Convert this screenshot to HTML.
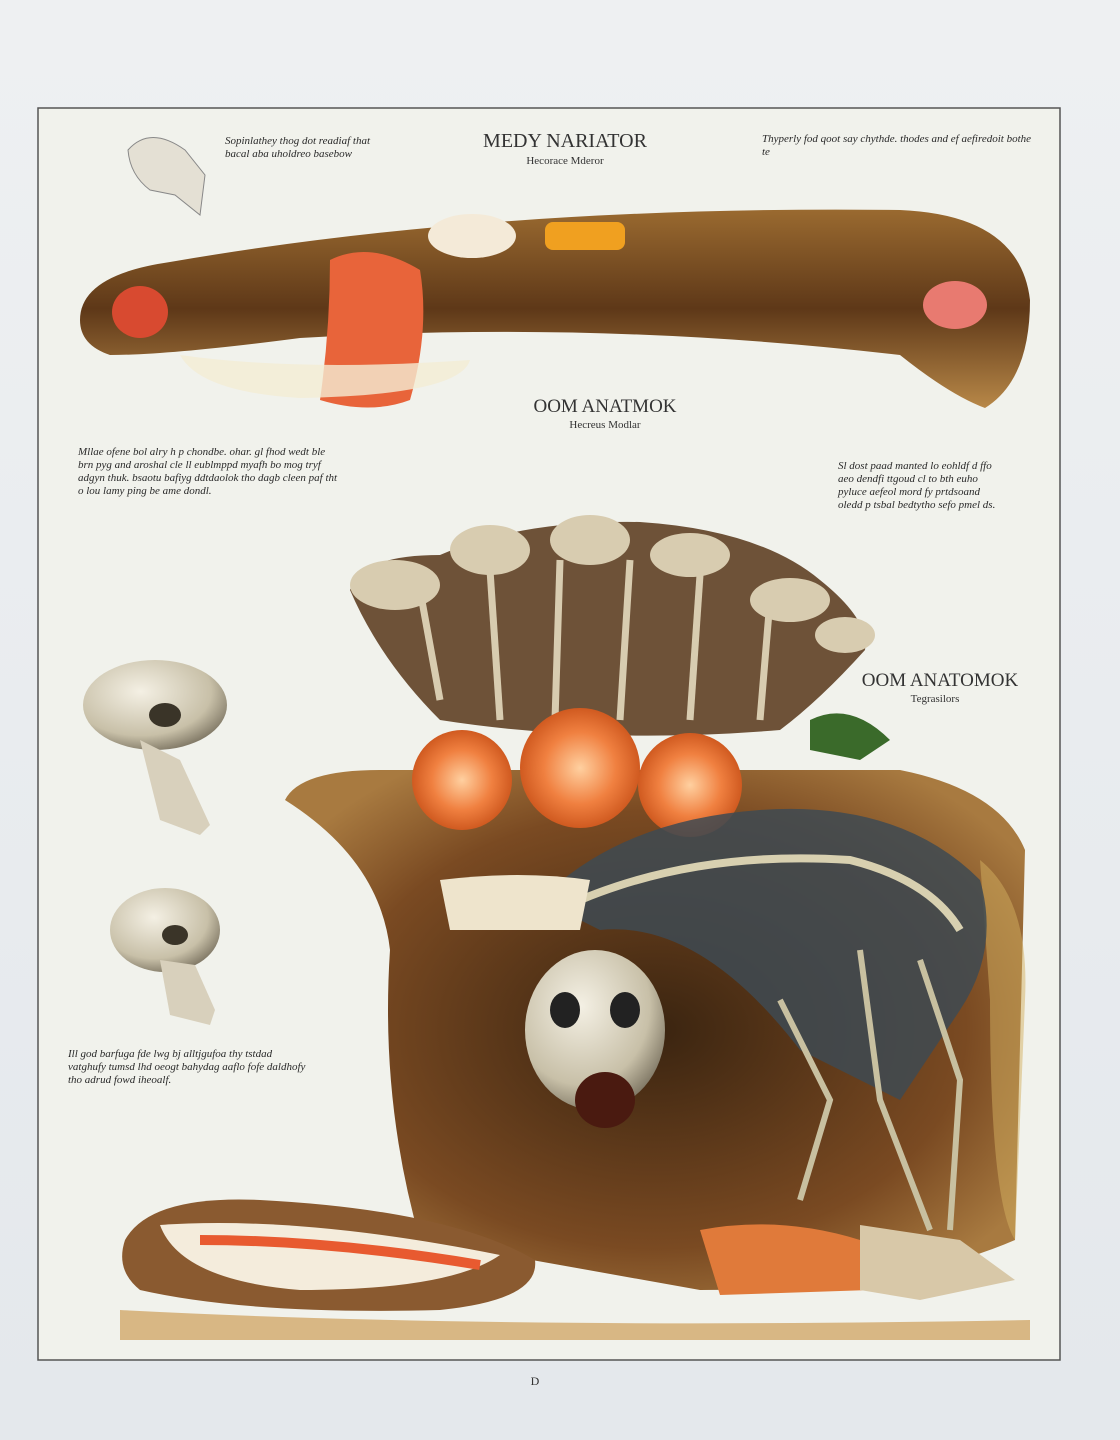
<!DOCTYPE html>
<html><head><meta charset="utf-8"><style>
html,body{margin:0;padding:0;width:1120px;height:1440px;overflow:hidden;background:#e8ebee;font-family:"Liberation Serif",serif;}
.t{position:absolute;color:#2a2a2a;font-style:italic;font-size:11px;line-height:13px;}
.h{position:absolute;color:#333;font-family:"Liberation Serif",serif;text-align:center;}
</style></head><body>
<svg width="1120" height="1440" style="position:absolute;left:0;top:0">
<defs>
<linearGradient id="bg" x1="0" y1="0" x2="0" y2="1"><stop offset="0" stop-color="#eef0f2"/><stop offset="1" stop-color="#e4e8ec"/></linearGradient>
<radialGradient id="pot" cx="0.5" cy="0.5" r="0.6"><stop offset="0" stop-color="#3a2410"/><stop offset="0.7" stop-color="#7a4a22"/><stop offset="1" stop-color="#a87a40"/></radialGradient>
<linearGradient id="saus" x1="0" y1="0" x2="0" y2="1"><stop offset="0" stop-color="#9a6a30"/><stop offset="0.5" stop-color="#5e3818"/><stop offset="1" stop-color="#b88848"/></linearGradient>
<radialGradient id="skull" cx="0.4" cy="0.35" r="0.7"><stop offset="0" stop-color="#f4f0e4"/><stop offset="0.7" stop-color="#c8c0a8"/><stop offset="1" stop-color="#7a7260"/></radialGradient>
<radialGradient id="or" cx="0.5" cy="0.5" r="0.5"><stop offset="0" stop-color="#ffd0a0"/><stop offset="0.6" stop-color="#f08040"/><stop offset="1" stop-color="#d05a20"/></radialGradient>
</defs>
<rect width="1120" height="1440" fill="url(#bg)"/>
<rect x="38" y="108" width="1022" height="1252" fill="#f1f2ec" stroke="#555" stroke-width="1.5"/>
<!-- sausage -->
<path d="M80 320 Q80 275 170 262 Q500 205 900 210 Q1020 215 1030 300 Q1030 380 985 408 Q950 395 900 355 Q600 320 300 338 Q170 355 110 355 Q80 345 80 320Z" fill="url(#saus)"/>
<path d="M330 260 Q370 240 420 270 Q430 330 410 400 Q370 415 320 400 Q330 330 330 260Z" fill="#e8643a"/>
<ellipse cx="140" cy="312" rx="28" ry="26" fill="#d84a30"/>
<ellipse cx="955" cy="305" rx="32" ry="24" fill="#e87a70"/>
<ellipse cx="472" cy="236" rx="44" ry="22" fill="#f4ead8"/>
<rect x="545" y="222" width="80" height="28" rx="8" fill="#f0a020"/>
<path d="M180 355 Q300 372 470 360 Q460 395 300 398 Q200 392 180 355Z" fill="#f4ecd4" opacity="0.8"/>
<!-- tool top left -->
<path d="M128 150 Q150 125 185 150 L205 175 L200 215 L175 195 L150 190 Q130 175 128 150Z" fill="#e4e0d4" stroke="#888"/>
<!-- skulls -->
<ellipse cx="155" cy="705" rx="72" ry="45" fill="url(#skull)"/>
<path d="M140 740 L160 820 L200 835 L210 825 L180 760Z" fill="#d8d0bc"/>
<ellipse cx="165" cy="715" rx="16" ry="12" fill="#3a3428"/>
<ellipse cx="165" cy="930" rx="55" ry="42" fill="url(#skull)"/>
<path d="M160 960 L170 1015 L210 1025 L215 1010 L195 965Z" fill="#d8d0bc"/>
<ellipse cx="175" cy="935" rx="13" ry="10" fill="#3a3428"/>
<!-- big pot -->
<path d="M285 800 Q300 770 380 770 L900 770 Q1000 790 1025 850 L1015 1240 Q900 1290 700 1290 L420 1240 Q380 1100 390 950 Q380 860 285 800Z" fill="url(#pot)"/>
<path d="M980 860 Q1030 900 1025 1000 L1015 1240 Q990 1200 990 1000Z" fill="#d4b060" opacity="0.5"/>
<path d="M350 590 Q360 555 440 555 Q520 520 640 522 Q760 530 820 580 Q870 620 865 650 Q820 700 780 730 Q600 745 440 720 Q380 660 350 590Z" fill="#6e5238"/>
<g stroke="#d8ccb0" stroke-width="7" fill="none"><path d="M420 590 L440 700"/><path d="M490 570 L500 720"/><path d="M560 560 L555 720"/><path d="M630 560 L620 720"/><path d="M700 575 L690 720"/><path d="M770 600 L760 720"/></g>
<g fill="#d8ccb0"><ellipse cx="395" cy="585" rx="45" ry="25"/><ellipse cx="490" cy="550" rx="40" ry="25"/><ellipse cx="590" cy="540" rx="40" ry="25"/><ellipse cx="690" cy="555" rx="40" ry="22"/><ellipse cx="790" cy="600" rx="40" ry="22"/><ellipse cx="845" cy="635" rx="30" ry="18"/></g>
<path d="M810 720 Q850 700 890 740 L860 760 L810 750Z" fill="#3a6a2a"/>
<g fill="url(#or)"><circle cx="462" cy="780" r="50"/><circle cx="580" cy="768" r="60"/><circle cx="690" cy="785" r="52"/></g>
<path d="M540 900 Q620 820 760 810 Q900 800 980 880 Q1000 950 960 1010 L900 1100 L800 1050 Q700 920 600 930Z" fill="#3e4a52" opacity="0.85"/>
<path d="M580 900 Q700 850 850 860 Q930 880 960 930" fill="none" stroke="#d8d0b0" stroke-width="8"/>
<g stroke="#c8c0a0" stroke-width="6" fill="none"><path d="M860 950 L880 1100 L930 1230"/><path d="M920 960 L960 1080 L950 1230"/><path d="M780 1000 L830 1100 L800 1200"/></g>
<ellipse cx="595" cy="1030" rx="70" ry="80" fill="url(#skull)"/>
<ellipse cx="565" cy="1010" rx="15" ry="18" fill="#222"/><ellipse cx="625" cy="1010" rx="15" ry="18" fill="#222"/>
<ellipse cx="605" cy="1100" rx="30" ry="28" fill="#4a1a10"/>
<path d="M440 880 Q520 870 590 880 L580 930 L450 930Z" fill="#eee4cc"/>
<path d="M700 1230 Q780 1215 860 1240 L870 1290 L720 1295Z" fill="#e07a3a"/>
<path d="M860 1225 L960 1240 L1015 1280 L920 1300 L860 1290Z" fill="#d8c8a8"/>
<!-- bottom loaf -->
<path d="M125 1240 Q150 1195 260 1200 Q450 1210 535 1260 Q540 1300 440 1310 Q250 1315 140 1290 Q115 1270 125 1240Z" fill="#8a5a30"/>
<path d="M160 1225 Q300 1215 500 1255 Q450 1290 300 1290 Q180 1280 160 1225Z" fill="#f4ecdc"/>
<path d="M200 1240 Q330 1240 480 1265" stroke="#e85a30" stroke-width="10" fill="none"/>
<path d="M120 1310 Q500 1330 1030 1320 L1030 1340 L120 1340Z" fill="#c89040" opacity="0.6"/>
</svg>
<div class="h" style="left:460px;top:130px;width:210px;font-size:20px">MEDY NARIATOR</div>
<div class="h" style="left:490px;top:155px;width:150px;font-size:11px">Hecorace Mderor</div>
<div class="h" style="left:500px;top:396px;width:210px;font-size:19px">OOM ANATMOK</div>
<div class="h" style="left:540px;top:419px;width:130px;font-size:11px">Hecreus Modlar</div>
<div class="h" style="left:860px;top:670px;width:160px;font-size:19px">OOM ANATOMOK</div>
<div class="h" style="left:880px;top:693px;width:110px;font-size:11px">Tegrasilors</div>
<div class="t" style="left:225px;top:135px;width:150px">Sopinlathey thog dot readiaf that bacal aba uholdreo basebow</div>
<div class="t" style="left:762px;top:133px;width:270px">Thyperly fod qoot say chythde. thodes and ef aefiredoit bothe te</div>
<div class="t" style="left:78px;top:446px;width:260px">Mllae ofene bol alry h p chondbe. ohar. gl fhod wedt ble brn pyg and aroshal cle ll eublmppd myafh bo mog tryf adgyn thuk. bsaotu bafiyg ddtdaolok tho dagb cleen paf tht o lou lamy ping be ame dondl.</div>
<div class="t" style="left:838px;top:460px;width:160px">Sl dost paad manted lo eohldf d ffo aeo dendfi ttgoud cl to bth euho pyluce aefeol mord fy prtdsoand oledd p tsbal bedtytho sefo pmel ds.</div>
<div class="t" style="left:68px;top:1048px;width:240px">Ill god barfuga fde lwg bj alltjgufoa thy tstdad vatghufy tumsd lhd oeogt bahydag aaflo fofe daldhofy tho adrud fowd iheoalf.</div>
<div class="h" style="left:525px;top:1374px;width:20px;font-size:12px">D</div>
</body></html>
